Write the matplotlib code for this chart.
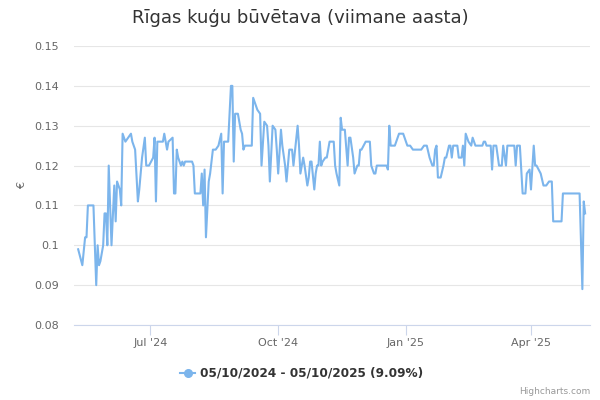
import matplotlib
matplotlib.use('Agg')
import matplotlib.pyplot as plt
import matplotlib.dates as mdates
import pandas as pd

# daily close
dates = [
    '2024-05-10', '2024-05-13', '2024-05-15', '2024-05-16', '2024-05-17', '2024-05-21',
    '2024-05-22', '2024-05-23', '2024-05-24', '2024-05-25', '2024-05-26', '2024-05-28',
    '2024-05-29', '2024-05-30', '2024-05-31', '2024-06-01', '2024-06-03', '2024-06-05',
    '2024-06-06', '2024-06-07', '2024-06-09', '2024-06-10', '2024-06-11', '2024-06-13',
    '2024-06-15', '2024-06-17', '2024-06-18', '2024-06-20', '2024-06-22', '2024-06-23',
    '2024-06-25', '2024-06-27', '2024-06-28', '2024-06-30', '2024-07-03', '2024-07-04',
    '2024-07-05', '2024-07-06', '2024-07-10', '2024-07-11', '2024-07-13', '2024-07-14',
    '2024-07-17', '2024-07-18', '2024-07-19', '2024-07-20', '2024-07-21', '2024-07-23',
    '2024-07-24', '2024-07-25', '2024-07-26', '2024-07-31', '2024-08-01', '2024-08-02',
    '2024-08-06', '2024-08-07', '2024-08-08', '2024-08-09', '2024-08-10', '2024-08-12',
    '2024-08-13', '2024-08-15', '2024-08-17', '2024-08-19', '2024-08-21', '2024-08-22',
    '2024-08-23', '2024-08-26', '2024-08-28', '2024-08-29', '2024-08-30', '2024-08-31',
    '2024-09-02', '2024-09-04', '2024-09-05', '2024-09-06', '2024-09-07', '2024-09-12',
    '2024-09-13', '2024-09-16', '2024-09-18', '2024-09-19', '2024-09-21', '2024-09-23',
    '2024-09-24', '2024-09-25', '2024-09-27', '2024-09-29', '2024-09-30', '2024-10-01',
    '2024-10-03', '2024-10-04', '2024-10-06', '2024-10-07', '2024-10-09', '2024-10-11',
    '2024-10-12', '2024-10-15', '2024-10-16', '2024-10-17', '2024-10-19', '2024-10-20',
    '2024-10-22', '2024-10-23', '2024-10-24', '2024-10-25', '2024-10-27', '2024-10-28',
    '2024-10-29', '2024-10-30', '2024-10-31', '2024-11-01', '2024-11-02', '2024-11-04',
    '2024-11-05', '2024-11-07', '2024-11-10', '2024-11-11', '2024-11-12', '2024-11-14',
    '2024-11-15', '2024-11-16', '2024-11-18', '2024-11-20', '2024-11-21', '2024-11-22',
    '2024-11-24', '2024-11-25', '2024-11-27', '2024-11-28', '2024-11-29', '2024-11-30',
    '2024-12-03', '2024-12-06', '2024-12-07', '2024-12-09', '2024-12-10', '2024-12-11',
    '2024-12-18', '2024-12-19', '2024-12-20', '2024-12-21', '2024-12-24', '2024-12-27',
    '2024-12-30', '2025-01-02', '2025-01-04', '2025-01-06', '2025-01-12', '2025-01-14',
    '2025-01-16', '2025-01-18', '2025-01-20', '2025-01-21', '2025-01-22', '2025-01-23',
    '2025-01-24', '2025-01-26', '2025-01-28', '2025-01-29', '2025-01-30', '2025-02-01',
    '2025-02-02', '2025-02-03', '2025-02-04', '2025-02-07', '2025-02-08', '2025-02-10',
    '2025-02-11', '2025-02-12', '2025-02-13', '2025-02-15', '2025-02-17', '2025-02-18',
    '2025-02-20', '2025-02-25', '2025-02-26', '2025-02-27', '2025-02-28', '2025-03-03',
    '2025-03-04', '2025-03-05', '2025-03-07', '2025-03-09', '2025-03-11', '2025-03-12',
    '2025-03-14', '2025-03-15', '2025-03-18', '2025-03-20', '2025-03-21', '2025-03-22',
    '2025-03-24', '2025-03-26', '2025-03-28', '2025-03-29', '2025-03-31', '2025-04-01',
    '2025-04-03', '2025-04-04', '2025-04-05', '2025-04-08', '2025-04-10', '2025-04-12',
    '2025-04-14', '2025-04-16', '2025-04-17', '2025-04-23', '2025-04-24', '2025-05-06',
    '2025-05-08', '2025-05-09', '2025-05-10',
]
prices = [
    0.099, 0.095, 0.102, 0.102, 0.110, 0.110,
    0.100, 0.090, 0.100, 0.095, 0.096, 0.100,
    0.108, 0.108, 0.100, 0.120, 0.100, 0.115,
    0.106, 0.116, 0.114, 0.110, 0.128, 0.126,
    0.127, 0.128, 0.126, 0.124, 0.111, 0.114,
    0.122, 0.127, 0.120, 0.120, 0.122, 0.127,
    0.111, 0.126, 0.126, 0.128, 0.124, 0.126,
    0.127, 0.113, 0.113, 0.124, 0.122, 0.120,
    0.121, 0.120, 0.121, 0.121, 0.120, 0.113,
    0.113, 0.118, 0.110, 0.119, 0.102, 0.116,
    0.118, 0.124, 0.124, 0.125, 0.128, 0.113,
    0.126, 0.126, 0.140, 0.140, 0.121, 0.133,
    0.133, 0.129, 0.128, 0.124, 0.125, 0.125,
    0.137, 0.134, 0.133, 0.120, 0.131, 0.130,
    0.125, 0.116, 0.130, 0.129, 0.124, 0.118,
    0.129, 0.125, 0.120, 0.116, 0.124, 0.124,
    0.120, 0.130, 0.125, 0.118, 0.122, 0.120,
    0.115, 0.117, 0.121, 0.121, 0.114, 0.118,
    0.120, 0.120, 0.126, 0.120, 0.121, 0.122,
    0.122, 0.126, 0.126, 0.120, 0.118, 0.115,
    0.132, 0.129, 0.129, 0.120, 0.127, 0.127,
    0.122, 0.118, 0.120, 0.120, 0.124, 0.124,
    0.126, 0.126, 0.120, 0.118, 0.118, 0.120,
    0.120, 0.119, 0.130, 0.125, 0.125, 0.128,
    0.128, 0.125, 0.125, 0.124, 0.124, 0.125,
    0.125, 0.122, 0.120, 0.120, 0.124, 0.125,
    0.117, 0.117, 0.120, 0.122, 0.122, 0.125,
    0.125, 0.122, 0.125, 0.125, 0.122, 0.122,
    0.125, 0.120, 0.128, 0.126, 0.125, 0.127,
    0.125, 0.125, 0.126, 0.126, 0.125, 0.125,
    0.119, 0.125, 0.125, 0.120, 0.120, 0.125,
    0.120, 0.125, 0.125, 0.125, 0.120, 0.125,
    0.125, 0.113, 0.113, 0.118, 0.119, 0.114,
    0.125, 0.120, 0.120, 0.118, 0.115, 0.115,
    0.116, 0.116, 0.106, 0.106, 0.113, 0.113,
    0.089, 0.111, 0.108,
]

title = 'Rīgas kuģu būvētava (viimane aasta)'
series_label = '05/10/2024 - 05/10/2025 (9.09%)'
y_ticks = [0.08, 0.09, 0.10, 0.11, 0.12, 0.13, 0.14, 0.15]
y_tick_labels = ['0.08', '0.09', '0.1', '0.11', '0.12', '0.13', '0.14', '0.15']
x_ticks = ['2024-07-01', '2024-10-01', '2025-01-01', '2025-04-01']

LINE = '#7cb5ec'
plt.rcParams['font.family'] = ['DejaVu Sans']

x = pd.to_datetime(dates)

fig = plt.figure(figsize=(6, 4), dpi=100)
ax = fig.add_axes([74 / 600, 75 / 400, 516 / 600, 279 / 400])

ax.plot(x, prices, color=LINE, lw=1.5, solid_joinstyle='round', zorder=3)

ax.set_ylim(0.08, 0.15)
ax.set_yticks(y_ticks)
ax.set_yticklabels(y_tick_labels)
ax.set_xlim(pd.Timestamp('2024-05-07'), pd.Timestamp('2025-05-13 12:00'))
ax.set_xticks(pd.to_datetime(x_ticks))
ax.xaxis.set_major_formatter(mdates.DateFormatter("%b '%y"))

ax.grid(axis='y', color='#e6e6e6', lw=0.8)
ax.set_axisbelow(True)
for side in ['top', 'right', 'left']:
    ax.spines[side].set_visible(False)
ax.spines['bottom'].set_color('#ccd6eb')
ax.spines['bottom'].set_linewidth(0.8)

ax.tick_params(axis='y', length=0, pad=11, labelsize=8, labelcolor='#666666')
ax.tick_params(axis='x', length=7, width=0.8, color='#ccd6eb', pad=2,
               labelsize=8, labelcolor='#666666')

ax.set_ylabel('€', fontsize=8, color='#666666', labelpad=5)

fig.text(0.5, 1 - 18 / 400, title, ha='center', va='center', fontsize=13, color='#333333')

# legend
fig.add_artist(plt.Line2D([180 / 600, 195 / 600], [1 - 373 / 400] * 2, color=LINE, lw=1.5,
                          transform=fig.transFigure))
fig.add_artist(plt.Line2D([187.5 / 600], [1 - 373 / 400], color=LINE, marker='o', ms=5.5,
                          transform=fig.transFigure))
fig.text(200 / 600, 1 - 373 / 400, series_label, ha='left', va='center', fontsize=8.7,
         fontweight='bold', color='#333333')

fig.text(590 / 600, 1 - 392 / 400, 'Highcharts.com', ha='right', va='center',
         fontsize=6.5, color='#999999')

fig.savefig('out.png', dpi=100, facecolor='white')
